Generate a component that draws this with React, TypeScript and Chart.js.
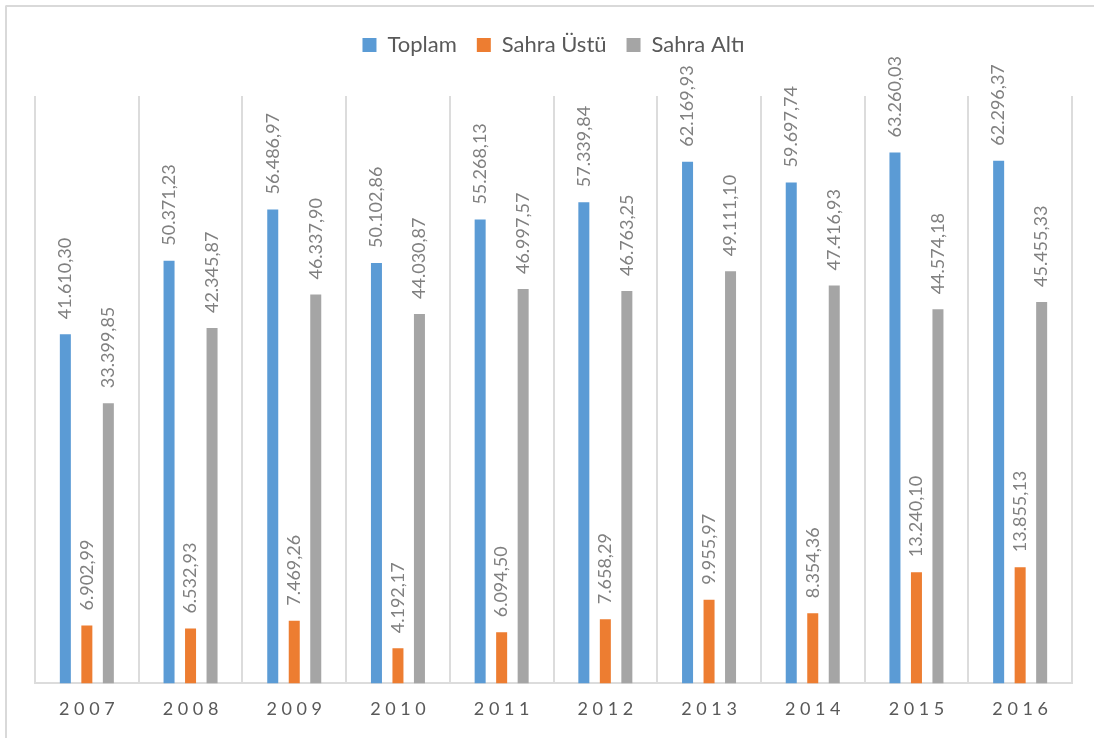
import React, { useEffect, useRef } from "react";
import { Chart, registerables } from "chart.js";

Chart.register(...registerables);

const years = ["2007", "2008", "2009", "2010", "2011", "2012", "2013", "2014", "2015", "2016"];
const toplam = [41610.30, 50371.23, 56486.97, 50102.86, 55268.13, 57339.84, 62169.93, 59697.74, 63260.03, 62296.37];
const sahraUstu = [6902.99, 6532.93, 7469.26, 4192.17, 6094.50, 7658.29, 9955.97, 8354.36, 13240.10, 13855.13];
const sahraAlti = [33399.85, 42345.87, 46337.90, 44030.87, 46997.57, 46763.25, 49111.10, 47416.93, 44574.18, 45455.33];
const seriesNames = ["Toplam", "Sahra Üstü", "Sahra Altı"];
const seriesColors = ["#5B9BD5", "#ED7D31", "#A5A5A5"];

function formatTR(v: number): string {
  const fixed = v.toFixed(2);
  const [intPart, dec] = fixed.split(".");
  const withDots = intPart.replace(/\B(?=(\d{3})+(?!\d))/g, ".");
  return withDots + "," + dec;
}

const valueLabelPlugin = {
  id: "valueLabels",
  afterDatasetsDraw(chart: any) {
    const ctx = chart.ctx;
    ctx.save();
    ctx.font = "18px Lato";
    ctx.fillStyle = "#808080";
    ctx.textAlign = "left";
    ctx.textBaseline = "middle";
    chart.data.datasets.forEach((ds: any, di: number) => {
      const meta = chart.getDatasetMeta(di);
      meta.data.forEach((el: any, i: number) => {
        const v = ds.data[i];
        ctx.save();
        ctx.translate(el.x, el.y - 15);
        ctx.rotate(-Math.PI / 2);
        ctx.fillText(formatTR(v), 0, 0);
        ctx.restore();
      });
    });
    ctx.restore();
  },
};

export default function App() {
  const canvasRef = useRef<HTMLCanvasElement | null>(null);

  useEffect(() => {
    if (!canvasRef.current) return;
    const data = [toplam, sahraUstu, sahraAlti];
    const chart = new Chart(canvasRef.current, {
      type: "bar",
      data: {
        labels: years,
        datasets: seriesNames.map((name, i) => ({
          label: name,
          data: data[i],
          backgroundColor: seriesColors[i],
          borderWidth: 0,
          categoryPercentage: 0.622,
          barPercentage: 0.512,
        })),
      },
      options: {
        responsive: false,
        devicePixelRatio: 1,
        animation: false,
        layout: { padding: { left: 35, right: 22, top: 14, bottom: 3 } },
        plugins: {
          legend: {
            position: "top",
            labels: {
              boxWidth: 14,
              boxHeight: 14,
              padding: 20,
              color: "#595959",
              font: { family: "Lato", size: 22 },
            },
          },
          title: {
            display: true,
            text: "",
            position: "top",
            weight: 500,
            font: { size: 10 },
            padding: { top: 0, bottom: 18 },
          },
          tooltip: { enabled: false },
        },
        scales: {
          x: {
            offset: true,
            grid: {
              offset: true,
              color: "#dcdcdc",
              lineWidth: 2,
              drawTicks: false,
            },
            border: { color: "#dcdcdc", width: 2 },
            ticks: {
              padding: 15,
              color: "#595959",
              font: { family: "Lato", size: 18 },
              callback: function (this: any, value: any) {
                return String(this.getLabelForValue(value)).split("").join(" ");
              },
            },
          },
          y: {
            display: false,
            min: 0,
            max: 70000,
          },
        },
      },
      plugins: [valueLabelPlugin],
    });
    return () => chart.destroy();
  }, []);

  return (
    <div style={{ position: "fixed", left: 0, top: 0, width: 1094, height: 738, overflow: "hidden", background: "#ffffff" }}>
      <div
        style={{
          position: "absolute",
          left: 5,
          top: 5,
          width: 1200,
          height: 1000,
          borderLeft: "2px solid #d9d9d9",
          borderTop: "2px solid #d9d9d9",
          borderTopLeftRadius: 2,
        }}
      />
      <canvas ref={canvasRef} width={1094} height={738} style={{ position: "absolute", left: 0, top: 0 }} />
    </div>
  );
}
